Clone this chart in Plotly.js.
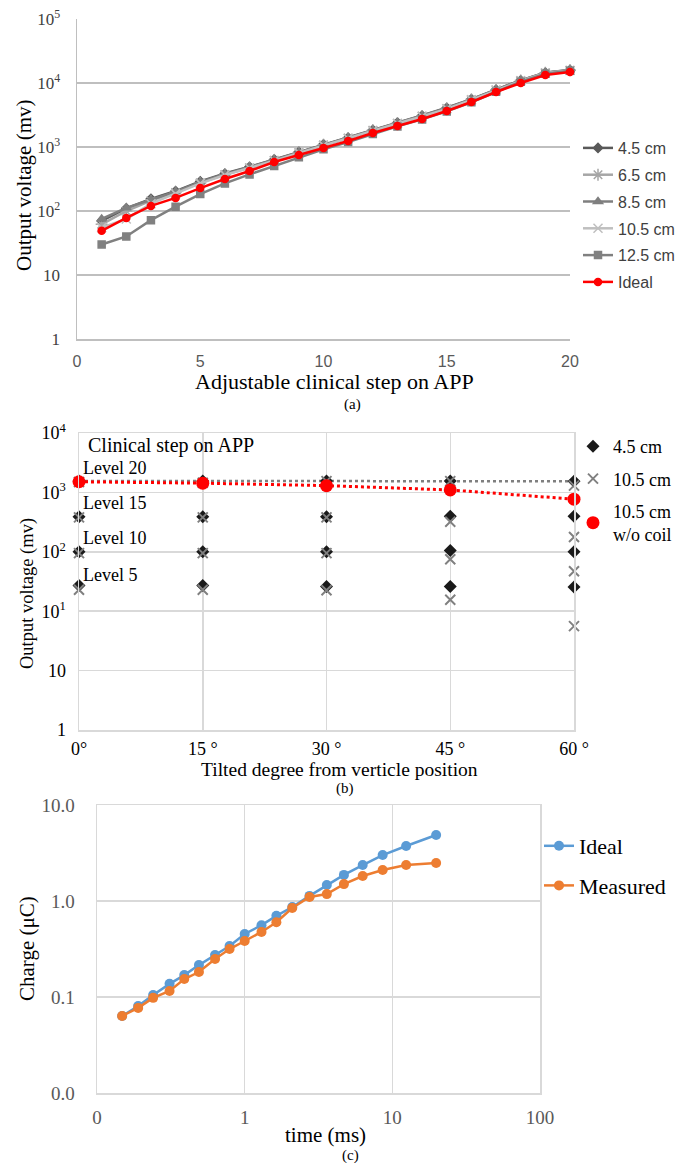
<!DOCTYPE html>
<html>
<head>
<meta charset="utf-8">
<script src="https://cdn.plot.ly/plotly-3.0.1.min.js"></script>
<style>
html,body{margin:0;padding:0;background:#fff;}
#chart{width:689px;height:1163px;}
</style>
</head>
<body>
<div id="chart"></div>
<script>
// ---------- Panel (a) data ----------
var steps = [1,2,3,4,5,6,7,8,9,10,11,12,13,14,15,16,17,18,19,20];
var v45cm  = [70,110,155,205,290,385,490,640,840,1100,1400,1850,2400,3100,4100,5600,7900,11000,14500,16000];
var v65cm  = [62,100,145,195,275,370,475,620,820,1080,1380,1820,2350,3050,4000,5500,7800,10900,14400,15800];
var v85cm  = [75,112,150,200,285,380,485,630,830,1090,1390,1830,2380,3080,4050,5550,7850,11000,14600,16000];
var v105cm = [55,75,130,185,270,365,470,610,810,1060,1360,1800,2330,3000,3950,5450,7750,10800,14300,15700];
var v125cm = [30,40,72,117,184,270,373,505,690,920,1200,1600,2100,2700,3600,5000,7300,10500,14000,15500];
var vIdeal = [49,78,120,160,228,316,422,583,750,964,1240,1655,2130,2740,3650,5050,7240,10000,13300,14800];
var aSeriesNames = ["4.5 cm","6.5 cm","8.5 cm","10.5 cm","12.5 cm","Ideal"];
var aYTickVals = [1,10,100,1000,10000,100000];
var aYTickText = ["1","10","10<sup>2</sup>","10<sup>3</sup>","10<sup>4</sup>","10<sup>5</sup>"];
var aXTickVals = [0,5,10,15,20];

// ---------- Panel (b) data ----------
var angles = [0,15,30,45,60];
var angleLabels = ["0°","15 °","30 °","45 °","60 °"];
var b45_L20 = [15600,15600,15600,15600,15400];
var b45_L15 = [3900,3900,3900,3950,3950];
var b45_L10 = [1000,1000,1000,1050,1000];
var b45_L5  = [270,270,260,260,255];
var b105_L20 = [15000,14500,15500,15500,13000];
var b105_L15 = [3800,3800,3800,3200,1770];
var b105_L10 = [950,950,950,750,470];
var b105_L5  = [230,230,225,156,56];
var bNoCoil_L20 = [15100,14300,13000,11000,7700];
var levelLabels = ["Level 20","Level 15","Level 10","Level 5"];
var bYTickVals = [1,10,100,1000,10000,100000];
var bYTickText = ["1","10","10<sup>1</sup>","10<sup>2</sup>","10<sup>3</sup>","10<sup>4</sup>"];

// ---------- Panel (c) data ----------
var timeMs = [0.148,0.19,0.24,0.31,0.39,0.49,0.63,0.79,1.0,1.3,1.64,2.1,2.75,3.6,4.7,6.3,8.6,12.4,19.8];
var chargeIdeal    = [0.0634,0.0805,0.105,0.137,0.169,0.215,0.274,0.34,0.453,0.56,0.70,0.866,1.13,1.47,1.87,2.37,3.01,3.74,4.87];
var chargeMeasured = [0.0634,0.077,0.098,0.1155,0.154,0.182,0.249,0.316,0.383,0.476,0.60,0.846,1.10,1.18,1.50,1.82,2.10,2.37,2.49];
var cXTickVals = [0.1,1,10,100];
var cXTickText = ["0","1","10","100"];
var cYTickVals = [0.01,0.1,1,10];
var cYTickText = ["0.0","0.1","1.0","10.0"];

// ---------- helpers ----------
var W = 689, H = 1163;
function fx(px){ return px / W; }
function fy(py){ return 1 - py / H; }
var SERIF = "Liberation Serif, Times New Roman, serif";
var SANS = "Liberation Sans Narrow, Liberation Sans, Arial, sans-serif";

function concat(arrs){ var o=[]; arrs.forEach(function(a){ o=o.concat(a); }); return o; }
function repeatX(n){ var o=[]; for(var i=0;i<n;i++){ o=o.concat(angles); } return o; }

var traces = [];
// Panel a
var aStyles = [
  {y:v45cm,  color:"#595959", symbol:"diamond", size:7, lw:2.5},
  {y:v65cm,  color:"#A6A6A6", symbol:"asterisk-open", size:10, lw:2.5},
  {y:v85cm,  color:"#7F7F7F", symbol:"triangle-up", size:8, lw:2.5},
  {y:v105cm, color:"#BFBFBF", symbol:"x-thin-open", size:9, lw:2.5},
  {y:v125cm, color:"#808080", symbol:"square", size:7, lw:2.5},
  {y:vIdeal, color:"#FF0000", symbol:"circle", size:7, lw:2.5}
];
aStyles.forEach(function(s, i){
  traces.push({
    type:"scatter", mode:"lines+markers", x:steps, y:s.y, name:aSeriesNames[i],
    xaxis:"x", yaxis:"y", legend:"legend", legendgroup:"a"+i,
    line:{color:s.color, width:s.lw},
    marker:{color:s.color, symbol:s.symbol, size:s.size, line:{color:s.color, width:1.5}},
    cliponaxis:false
  });
});

// Panel b
traces.push({
  type:"scatter", mode:"lines", x:angles, y:b45_L20, showlegend:false,
  xaxis:"x2", yaxis:"y2", line:{color:"#7F7F7F", width:2.5, dash:"dot"}, hoverinfo:"skip"
});
traces.push({
  type:"scatter", mode:"lines", x:angles, y:bNoCoil_L20, showlegend:false,
  xaxis:"x2", yaxis:"y2", line:{color:"#FF0000", width:3, dash:"dot"}, hoverinfo:"skip"
});
traces.push({
  type:"scatter", mode:"markers", name:"4.5 cm",
  x:repeatX(4), y:concat([b45_L20,b45_L15,b45_L10,b45_L5]),
  xaxis:"x2", yaxis:"y2", legend:"legend2", legendgroup:"b0",
  marker:{color:"#1a1a1a", symbol:"diamond", size:10}, cliponaxis:false
});
traces.push({
  type:"scatter", mode:"markers", name:"10.5 cm",
  x:repeatX(4), y:concat([b105_L20,b105_L15,b105_L10,b105_L5]),
  xaxis:"x2", yaxis:"y2", legend:"legend2", legendgroup:"b1",
  marker:{color:"#808080", symbol:"x-thin-open", size:10, line:{color:"#808080", width:2}}, cliponaxis:false
});
traces.push({
  type:"scatter", mode:"markers", name:"10.5 cm<br>w/o coil",
  x:angles, y:bNoCoil_L20,
  xaxis:"x2", yaxis:"y2", legend:"legend2", legendgroup:"b2",
  marker:{color:"#FF0000", symbol:"circle", size:13}, cliponaxis:false
});

// Panel c
traces.push({
  type:"scatter", mode:"lines+markers", name:"Ideal", x:timeMs, y:chargeIdeal,
  xaxis:"x3", yaxis:"y3", legend:"legend3", legendgroup:"c0",
  line:{color:"#5B9BD5", width:2.5}, marker:{color:"#5B9BD5", size:10}, cliponaxis:false
});
traces.push({
  type:"scatter", mode:"lines+markers", name:"Measured", x:timeMs, y:chargeMeasured,
  xaxis:"x3", yaxis:"y3", legend:"legend3", legendgroup:"c1",
  line:{color:"#ED7D31", width:2.5}, marker:{color:"#ED7D31", size:10}, cliponaxis:false
});

var annotations = [];
function ann(text, px, py, opts){
  var a = {text:text, x:fx(px), y:fy(py), xref:"paper", yref:"paper", showarrow:false,
    xanchor:"center", yanchor:"middle", font:{family:SERIF, size:16, color:"#000"}};
  for (var k in opts){ a[k]=opts[k]; }
  annotations.push(a);
}
// Panel a titles
ann("Output voltage (mv)", 24, 186, {textangle:-90, font:{family:SERIF, size:21, color:"#000"}});
ann("Adjustable clinical step on APP", 334, 381, {font:{family:SERIF, size:22, color:"#000"}});
ann("(a)", 352, 404, {font:{family:SERIF, size:15, color:"#000"}});
// Panel b titles + level labels
ann("Output voltage (mv)", 27, 594, {textangle:-90, font:{family:SERIF, size:18.5, color:"#000"}});
ann("Tilted degree from verticle position", 339, 769, {font:{family:SERIF, size:19.5, color:"#000"}});
ann("(b)", 345, 788, {font:{family:SERIF, size:15, color:"#000"}});
ann("Clinical step on APP", 86, 445, {xanchor:"left", font:{family:SERIF, size:20, color:"#000"}});
var levelY = [468,503,538,575];
levelLabels.forEach(function(t,i){
  ann(t, 81, levelY[i], {xanchor:"left", font:{family:SERIF, size:18, color:"#000"}});
});
// Panel c titles
ann("Charge (μC)", 27, 949, {textangle:-90, font:{family:SERIF, size:21, color:"#000"}});
ann("time (ms)", 325, 1135, {font:{family:SERIF, size:21, color:"#000"}});
ann("(c)", 350, 1155, {font:{family:SERIF, size:15, color:"#000"}});

var layout = {
  width:W, height:H, margin:{l:0,r:0,t:0,b:0},
  paper_bgcolor:"#fff", plot_bgcolor:"#fff",
  showlegend:true,
  xaxis:{domain:[fx(77),fx(570)], anchor:"y", range:[0,20], tickvals:aXTickVals,
    showgrid:false, zeroline:false, showline:true, linecolor:"#BFBFBF", linewidth:1.5,
    ticks:"", ticklabelstandoff:7, tickfont:{family:SANS, size:16, color:"#595959"}},
  yaxis:{domain:[fy(339),fy(19)], anchor:"x", type:"log", range:[0,5],
    tickvals:aYTickVals, ticktext:aYTickText,
    showgrid:true, gridcolor:"#BFBFBF", gridwidth:1.5, zeroline:false,
    showline:true, linecolor:"#BFBFBF", linewidth:1.5, ticks:"", ticklabelstandoff:12,
    tickfont:{family:SERIF, size:17, color:"#404040"}},
  xaxis2:{domain:[fx(79),fx(574)], anchor:"y2", range:[0,60], tickvals:angles, ticktext:angleLabels,
    showgrid:true, gridcolor:"#D9D9D9", gridwidth:1.5, zeroline:false,
    showline:true, linecolor:"#D9D9D9", linewidth:1.5, mirror:true,
    ticks:"", ticklabelstandoff:2, tickfont:{family:SERIF, size:18, color:"#000"}},
  yaxis2:{domain:[fy(730),fy(433)], anchor:"x2", type:"log", range:[0,5],
    tickvals:bYTickVals, ticktext:bYTickText,
    showgrid:true, gridcolor:"#D9D9D9", gridwidth:1.5, zeroline:false,
    showline:true, linecolor:"#D9D9D9", linewidth:1.5, mirror:true,
    ticks:"", ticklabelstandoff:8, tickfont:{family:SERIF, size:18, color:"#000"}},
  xaxis3:{domain:[fx(97),fx(540)], anchor:"y3", type:"log", range:[-1,2],
    tickvals:cXTickVals, ticktext:cXTickText,
    showgrid:true, gridcolor:"#D9D9D9", gridwidth:1.5, zeroline:false,
    showline:true, linecolor:"#D9D9D9", linewidth:1.5, mirror:true,
    ticks:"", ticklabelstandoff:7, tickfont:{family:SERIF, size:19, color:"#595959"}},
  yaxis3:{domain:[fy(1093),fy(805)], anchor:"x3", type:"log", range:[-2,1],
    tickvals:cYTickVals, ticktext:cYTickText,
    showgrid:true, gridcolor:"#D9D9D9", gridwidth:1.5, zeroline:false,
    showline:true, linecolor:"#D9D9D9", linewidth:1.5, mirror:true,
    ticks:"", ticklabelstandoff:17, tickfont:{family:SERIF, size:19, color:"#595959"}},
  legend:{x:fx(578), y:fy(131), xanchor:"left", yanchor:"top", traceorder:"grouped",
    tracegroupgap:3, bgcolor:"rgba(0,0,0,0)", font:{family:SANS, size:16, color:"#404040"},
    itemwidth:30},
  legend2:{x:fx(573), y:fy(428), xanchor:"left", yanchor:"top", traceorder:"grouped",
    tracegroupgap:6, bgcolor:"rgba(0,0,0,0)", font:{family:SERIF, size:18, color:"#000"},
    itemwidth:30},
  legend3:{x:fx(539), y:fy(825), xanchor:"left", yanchor:"top", traceorder:"grouped",
    tracegroupgap:8, bgcolor:"rgba(0,0,0,0)", font:{family:SERIF, size:22, color:"#000"},
    itemwidth:30},
  annotations:annotations
};

Plotly.newPlot("chart", traces, layout, {staticPlot:true, displayModeBar:false});
</script>
</body>
</html>
